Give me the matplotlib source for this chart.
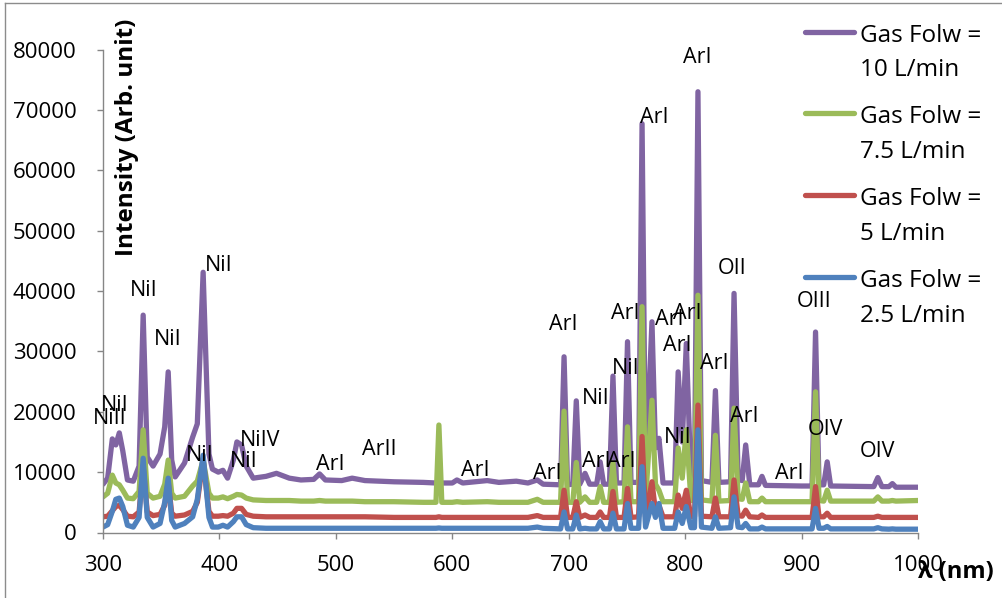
import matplotlib
matplotlib.use("Agg")
import matplotlib.pyplot as plt
from matplotlib.lines import Line2D

plt.rcParams['font.family'] = ['Open Sans', 'DejaVu Sans']

# ---------------- data ----------------
wavelength = [300, 304, 308, 311, 314, 317, 321, 326, 331, 334.5, 338, 343, 349, 353, 356, 359, 362,
              370, 377, 381, 386, 391, 394, 399, 403, 407, 412, 415, 419, 423, 429, 440, 449, 460,
              470, 481, 486, 491, 505, 514, 525, 550, 575, 586, 588.5, 591, 600, 604, 609, 630,
              640, 655, 665, 673, 678, 693, 696, 699, 703.5, 706.5, 709.5, 714, 718, 724, 727, 730,
              735, 738, 741, 747.5, 750.5, 753.5, 760, 763, 766, 771.5, 774.5, 777.5, 781, 791, 794,
              797.5, 801, 805, 808, 811, 814, 823, 826, 829, 839, 842, 845.5, 849, 852, 855.5, 863,
              866, 869, 900, 909, 912, 915, 919, 922, 925, 962, 965.5, 969, 975, 978, 981, 1000]

flow_10 = [8000, 9000, 15500, 14500, 16500, 13500, 8700, 8500, 11000, 36000, 12500, 11000, 13000, 17500, 26600, 12000, 9200,
           11500, 15800, 18000, 43100, 13000, 10500, 10000, 10300, 9000, 12000, 15000, 14500, 11000, 9000, 9300, 9800, 9000,
           8700, 8800, 9700, 8700, 8600, 9000, 8600, 8400, 8300, 8200, 8200, 8200, 8200, 8700, 8200, 8600,
           8300, 8500, 8200, 8700, 8000, 7900, 29100, 7900, 8000, 21800, 8000, 9800, 8000, 8000, 11700, 8000,
           8000, 25900, 8200, 8200, 31600, 8300, 8300, 67700, 9000, 34900, 14000, 15600, 8200, 8200, 26600,
           15000, 31300, 8500, 8500, 73000, 8600, 8300, 23500, 8300, 8400, 39600, 8800, 8600, 14500, 7900, 7900,
           9300, 7800, 7700, 7700, 33200, 7900, 7900, 11700, 7700, 7600, 9100, 7600, 7600, 8100, 7500, 7500]

flow_7_5 = [5900, 6500, 9500, 8200, 7900, 7000, 5700, 5600, 6800, 17000, 6500, 5700, 6000, 8000, 12000, 6500, 5700,
            6000, 7700, 8500, 12000, 6500, 5700, 5700, 5900, 5600, 6000, 6300, 6200, 5700, 5400, 5300, 5300, 5300,
            5200, 5200, 5300, 5200, 5200, 5200, 5100, 5100, 5000, 5000, 17800, 5000, 5000, 5100, 5000, 5100,
            5000, 5000, 5000, 5500, 5000, 5000, 20100, 5000, 5000, 11600, 5000, 5900, 5000, 5000, 7600, 5000,
            5000, 11500, 5000, 5100, 17500, 5100, 5100, 37400, 5300, 21900, 8000, 7000, 5100, 5100, 14000,
            9000, 17000, 5300, 5300, 39300, 5400, 5200, 16100, 5200, 5300, 20600, 5600, 5500, 8200, 5100, 5100,
            5700, 5100, 5100, 5100, 23300, 5300, 5200, 7000, 5200, 5200, 5900, 5200, 5200, 5300, 5200, 5300]

flow_5 = [2600, 2700, 3600, 4300, 4500, 3800, 2700, 2600, 3400, 11000, 3400, 2800, 3000, 4500, 8500, 3200, 2700,
          2900, 3500, 5000, 12000, 3500, 2700, 2700, 2800, 2700, 3200, 4000, 4000, 3000, 2700, 2600, 2600, 2600,
          2600, 2600, 2600, 2600, 2600, 2600, 2600, 2500, 2500, 2500, 2600, 2500, 2500, 2500, 2500, 2500,
          2500, 2500, 2500, 2800, 2500, 2500, 7000, 2500, 2500, 5100, 2500, 2900, 2500, 2500, 3400, 2500,
          2500, 6800, 2500, 2500, 7300, 2500, 2600, 15900, 2600, 8400, 3500, 4500, 2600, 2600, 6200,
          4000, 7000, 2600, 2600, 21100, 2700, 2600, 5700, 2600, 2600, 8700, 2800, 2700, 3700, 2600, 2500,
          2900, 2500, 2500, 2500, 7600, 2600, 2600, 3200, 2500, 2500, 2700, 2500, 2500, 2500, 2500, 2500]

flow_2_5 = [900, 1300, 3500, 5500, 5700, 4300, 1200, 900, 2500, 12300, 2500, 900, 1500, 5000, 9000, 2000, 900,
            1500, 2600, 5500, 12800, 2500, 900, 900, 1200, 900, 1800, 2600, 2600, 1300, 800, 700, 700, 700,
            700, 700, 700, 700, 700, 700, 700, 700, 700, 700, 750, 700, 700, 700, 700, 700,
            700, 700, 700, 900, 700, 600, 3400, 600, 600, 2900, 600, 700, 600, 600, 1800, 600,
            600, 3200, 600, 600, 4800, 700, 700, 10900, 900, 4800, 2500, 4800, 700, 700, 3400,
            1500, 4300, 800, 800, 17000, 900, 700, 2600, 700, 800, 5900, 900, 800, 1500, 600, 600,
            900, 600, 600, 600, 4000, 700, 700, 1000, 600, 600, 800, 600, 550, 600, 550, 550]

series_labels = ["Gas Folw =\n10 L/min", "Gas Folw =\n7.5 L/min", "Gas Folw =\n5 L/min", "Gas Folw =\n2.5 L/min"]
series_colors = ["#8064A2", "#9BBB59", "#C0504D", "#4F81BD"]

line_names = ["NiI", "NiII", "NiI", "NiI", "NiI", "NiI", "NiIV", "NiI", "ArI", "ArII", "ArI", "ArI",
              "ArI", "NiI", "ArI", "ArI", "NiI", "ArI", "ArI", "ArI", "ArI", "ArI", "NiI", "ArI",
              "ArI", "OII", "ArI", "ArI", "OIII", "OIV", "OIV"]
line_x = [310.3, 306.0, 334.7, 355.3, 399.1, 383.2, 434.7, 421.0, 495.6, 537.6, 620.0, 681.7,
          695.5, 723.4, 723.8, 745.2, 748.7, 748.7, 773.5, 786.4, 801.8, 793.3, 793.3, 810.4,
          825.0, 840.5, 850.7, 889.4, 910.8, 920.2, 964.8]
line_y = [21100, 18800, 40150, 31900, 44300, 12800, 15300, 11700, 11300, 13800, 10200, 9700,
          34400, 22200, 11700, 11700, 27200, 36200, 68700, 35200, 36300, 31000, 15700, 78600,
          28000, 43800, 19200, 9850, 38200, 17000, 13400]

x_ticks = [300, 400, 500, 600, 700, 800, 900, 1000]
y_ticks = [0, 10000, 20000, 30000, 40000, 50000, 60000, 70000, 80000]

# ---------------- figure ----------------
W, H = 1002, 598
fig = plt.figure(figsize=(W / 100, H / 100), dpi=100)

def fx(px):
    return px / W

def fy(py):
    return 1 - py / H

ax = fig.add_axes([fx(103), fy(532.5), fx(918) - fx(103), fy(49.5) - fy(532.5)])

series = [flow_10, flow_7_5, flow_5, flow_2_5]
for vals, col in zip(series, series_colors):
    ax.plot(wavelength, vals, color=col, lw=3.8, solid_joinstyle='round', solid_capstyle='round')

ax.set_xlim(300, 1000)
ax.set_ylim(0, 80000)
ax.set_xticks(x_ticks)
ax.set_yticks(y_ticks)
ax.set_xticklabels([str(v) for v in x_ticks])
ax.set_yticklabels([str(v) for v in y_ticks])

axis_gray = "#868686"
for s in ["top", "right"]:
    ax.spines[s].set_visible(False)
for s in ["left", "bottom"]:
    ax.spines[s].set_color(axis_gray)
    ax.spines[s].set_linewidth(1.0)
ax.tick_params(axis='both', colors=axis_gray, labelcolor='black', labelsize=16, length=4, width=1)
ax.tick_params(axis='y', pad=15)
ax.tick_params(axis='x', pad=12)

for name, xv, yv in zip(line_names, line_x, line_y):
    ax.text(xv, yv, name, ha='center', va='center', fontsize=15.5, color='black')

# axis titles
fig.text(fx(127), fy(137), "Intensity (Arb. unit)", rotation=90, ha='center', va='center',
         fontsize=17.5, fontweight='bold')
fig.text(fx(956), fy(572), "λ (nm)", ha='center', va='center', fontsize=17, fontweight='bold')

# legend (two-line labels with handle at first line)
for i, (lab, col) in enumerate(zip(series_labels, series_colors)):
    yl = 31.7 + 81.7 * i
    fig.add_artist(Line2D([fx(805), fx(854)], [fy(yl), fy(yl)], color=col, lw=3.8,
                          solid_capstyle='round'))
    l1, l2 = lab.split("\n")
    fig.text(fx(860), fy(41.5 + 81.7 * i), l1, ha='left', va='baseline', fontsize=17.5)
    fig.text(fx(860), fy(76.5 + 81.7 * i), l2, ha='left', va='baseline', fontsize=17.5)

# chart-area border
border = "#8c8c8c"
fig.add_artist(Line2D([fx(5), fx(5)], [fy(3), fy(600)], color=border, lw=1))
fig.add_artist(Line2D([fx(5), fx(1005)], [fy(3), fy(3)], color=border, lw=1))

fig.savefig("out.png", dpi=100)
